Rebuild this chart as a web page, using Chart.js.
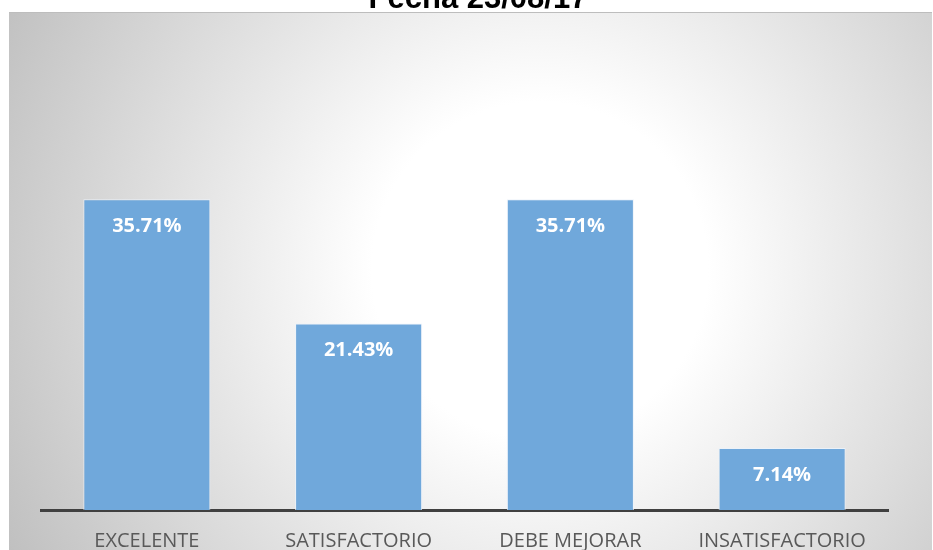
<!DOCTYPE html>
<html>
<head>
<meta charset="utf-8">
<script src="https://cdn.jsdelivr.net/npm/chart.js@4"></script>
<style>
  html, body { margin: 0; padding: 0; background: #fff; }
  #wrap { position: relative; width: 933px; height: 550px; overflow: hidden; }
  #chart { position: absolute; left: 0; top: -20px; }
</style>
</head>
<body>
<div id="wrap">
  <canvas id="chart" width="933" height="584"></canvas>
</div>
<script>
// ===== Daten =====
const TITLE = 'Fecha 23/08/17';
const categories = ['EXCELENTE', 'SATISFACTORIO', 'DEBE MEJORAR', 'INSATISFACTORIO'];
const percentages = [35.71, 21.43, 35.71, 7.14];

const SHIFT = 20; // canvas ist nach oben verschoben (Titel abgeschnitten)

// Hintergrund: weiss + Box mit radialem Verlauf
const backgroundPlugin = {
  id: 'bgBox',
  beforeDraw(chart) {
    const ctx = chart.ctx;
    ctx.save();
    ctx.fillStyle = '#ffffff';
    ctx.fillRect(0, 0, chart.width, chart.height);

    const x0 = 9, y0 = 12 + SHIFT, x1 = 932, y1 = 550 + SHIFT;
    const g = ctx.createRadialGradient(540, 270 + SHIFT, 0, 540, 270 + SHIFT, 600);
    g.addColorStop(0, '#ffffff');
    g.addColorStop(0.28, '#ffffff');
    g.addColorStop(1, '#c0c0c0');
    ctx.fillStyle = g;
    ctx.fillRect(x0, y0, x1 - x0, y1 - y0);

    // leichte Kante oben
    ctx.fillStyle = '#bdbdbd';
    ctx.fillRect(x0, y0, x1 - x0, 1);

    // Titel (oben abgeschnitten, wie im Original)
    ctx.fillStyle = '#000000';
    ctx.font = 'bold 31px "Liberation Sans"';
    ctx.textAlign = 'center';
    ctx.textBaseline = 'alphabetic';
    ctx.fillText(TITLE, 478, 8 + SHIFT);
    ctx.restore();
  }
};

// Prozent-Labels in den Balken
const valueLabels = {
  id: 'valueLabels',
  afterDatasetsDraw(chart) {
    const ctx = chart.ctx;
    const meta = chart.getDatasetMeta(0);
    ctx.save();
    ctx.fillStyle = '#ffffff';
    ctx.font = 'bold 20px "Open Sans"';
    ctx.textAlign = 'center';
    ctx.textBaseline = 'middle';
    meta.data.forEach((bar, i) => {
      ctx.fillText(percentages[i].toFixed(2) + '%', bar.x, bar.y + 27);
    });
    ctx.restore();
  }
};

new Chart(document.getElementById('chart'), {
  type: 'bar',
  data: {
    labels: categories,
    datasets: [{
      data: percentages,
      backgroundColor: '#70a8db',
      borderColor: 'rgba(235,242,250,0.9)',
      borderWidth: 1,
      barPercentage: 0.6,
      categoryPercentage: 1.0
    }]
  },
  options: {
    responsive: false,
    animation: false,
    layout: { padding: { left: 41, right: 45, top: 182, bottom: 0 } },
    plugins: {
      legend: { display: false },
      tooltip: { enabled: false },
      title: { display: false }
    },
    scales: {
      x: {
        grid: { display: false },
        border: { display: true, color: '#404040', width: 3 },
        ticks: {
          color: '#595959',
          padding: 11,
          font: { family: 'Open Sans', size: 20 }
        }
      },
      y: {
        display: false,
        min: 0,
        max: 40
      }
    }
  },
  plugins: [backgroundPlugin, valueLabels]
});
</script>
</body>
</html>
